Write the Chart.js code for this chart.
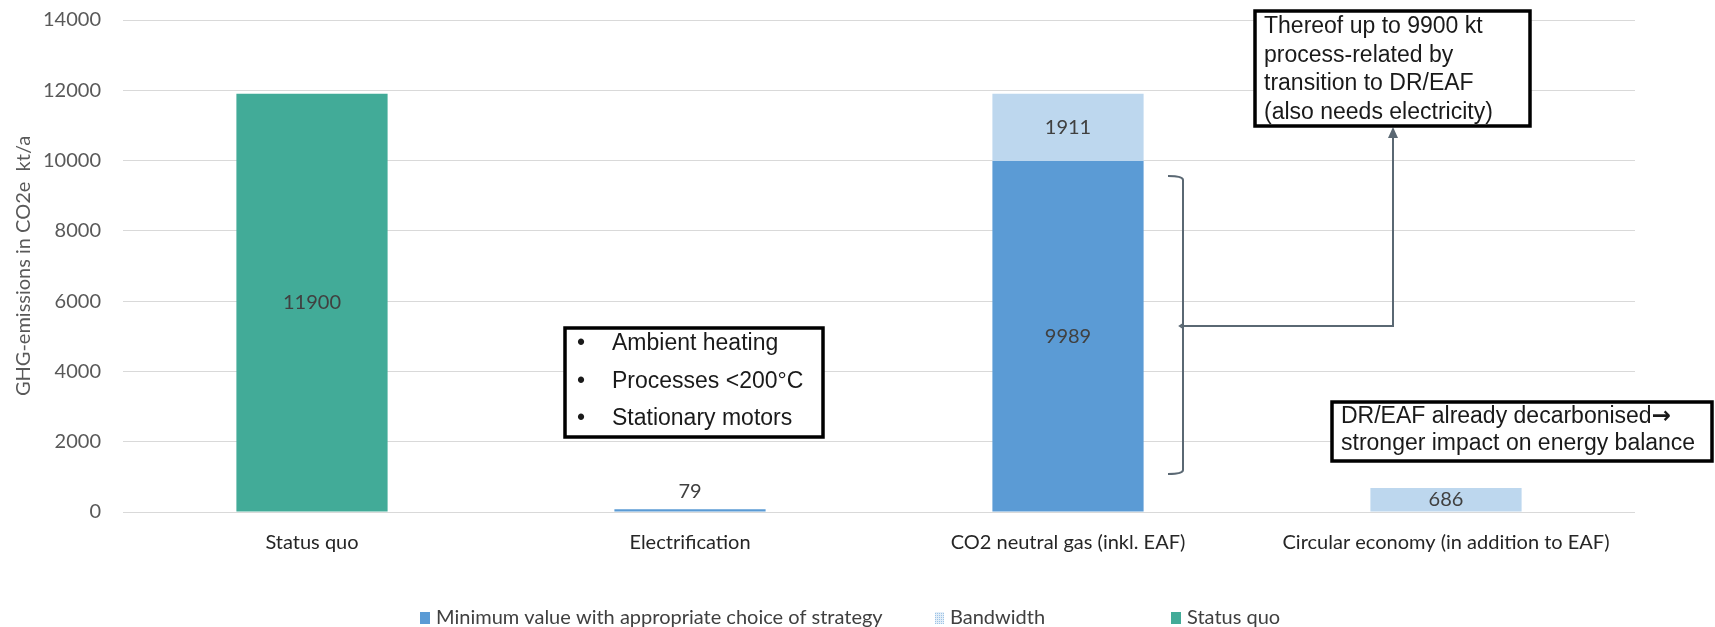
<!DOCTYPE html>
<html>
<head>
<meta charset="utf-8">
<script src="https://cdn.jsdelivr.net/npm/chart.js@4/dist/chart.umd.min.js"></script>
<style>
  html, body { margin: 0; padding: 0; background: #ffffff; }
  #wrap { width: 1715px; height: 627px; }
</style>
</head>
<body>
<div id="wrap"><canvas id="chart" width="1715" height="627"></canvas></div>
<script>
// Categories and series (kt CO2e per year)
const categories = ['Status quo', 'Electrification', 'CO2 neutral gas (inkl. EAF)', 'Circular economy (in addition to EAF)'];
const minimumValues = [null, 79, 9989, null];
const bandwidthValues = [null, null, 1911, 686];
const statusQuoValues = [11900, null, null, null];
const seriesNames = ['Minimum value with appropriate choice of strategy', 'Bandwidth', 'Status quo'];
const yTickValues = [0, 2000, 4000, 6000, 8000, 10000, 12000, 14000];
const yAxisTitle = 'GHG-emissions in CO2e  kt/a';

const COLORS = { minimum: '#5b9bd5', bandwidth: '#bdd7ee', status: '#42ab98' };
const UI_FONT = 'Lato, "Open Sans", sans-serif';
const NOTE_FONT = '"Liberation Sans", Arial, sans-serif';

// Value labels centred in each segment, or above it when the segment is very thin
const valueLabels = {
  id: 'valueLabels',
  afterDatasetsDraw(chart) {
    const ctx = chart.ctx;
    ctx.save();
    ctx.font = '20px ' + UI_FONT;
    ctx.fillStyle = '#404040';
    ctx.textAlign = 'center';
    ctx.textBaseline = 'middle';
    chart.data.datasets.forEach((ds, di) => {
      const meta = chart.getDatasetMeta(di);
      meta.data.forEach((el, i) => {
        const v = ds.data[i];
        if (v === null || v === undefined) return;
        const h = el.base - el.y;
        const y = h < 12 ? el.y - 18 : (el.y + el.base) / 2;
        ctx.fillText(String(v), el.x, y);
      });
    });
    ctx.restore();
  }
};

// Legend row under the axis
const bottomLegend = {
  id: 'bottomLegend',
  afterDraw(chart) {
    const ctx = chart.ctx;
    const y = 618;
    const items = [
      { x: 420, color: COLORS.minimum, dotted: false },
      { x: 935, color: COLORS.bandwidth, dotted: true },
      { x: 1171, color: COLORS.status, dotted: false }
    ];
    ctx.save();
    ctx.font = '20px ' + UI_FONT;
    ctx.textBaseline = 'middle';
    ctx.textAlign = 'left';
    items.forEach((it, i) => {
      if (it.dotted) {
        ctx.fillStyle = '#e3eef8';
        ctx.fillRect(it.x, y - 6, 9, 12);
        ctx.fillStyle = '#9dc3e6';
        for (let yy = y - 5; yy < y + 6; yy += 2) {
          for (let xx = it.x + ((yy % 4) ? 0 : 1); xx < it.x + 9; xx += 2) {
            ctx.fillRect(xx, yy, 1, 1);
          }
        }
      } else {
        ctx.fillStyle = it.color;
        ctx.fillRect(it.x, y - 6, 10, 12);
      }
      ctx.fillStyle = '#404040';
      ctx.fillText(seriesNames[i], it.x + (it.dotted ? 15 : 16), y);
    });
    ctx.restore();
  }
};

// Note boxes, bracket and connector arrow
function noteBox(ctx, x, y, w, h) {
  ctx.fillStyle = '#ffffff';
  ctx.fillRect(x, y, w, h);
  ctx.lineWidth = 3.5;
  ctx.strokeStyle = '#000000';
  ctx.strokeRect(x, y, w, h);
}

const notes = {
  id: 'notes',
  afterDraw(chart) {
    const ctx = chart.ctx;
    ctx.save();

    // bracket beside the CO2 neutral gas column and connector
    ctx.strokeStyle = '#5a6873';
    ctx.lineWidth = 2;
    ctx.beginPath();
    ctx.moveTo(1168, 176);
    ctx.quadraticCurveTo(1183, 176, 1183, 180);
    ctx.lineTo(1183, 470);
    ctx.quadraticCurveTo(1183, 474, 1168, 474);
    ctx.stroke();
    ctx.beginPath();
    ctx.moveTo(1183, 324);
    ctx.lineTo(1180, 326);
    ctx.lineTo(1183, 328);
    ctx.stroke();
    ctx.beginPath();
    ctx.moveTo(1183, 326);
    ctx.lineTo(1393, 326);
    ctx.lineTo(1393, 136);
    ctx.stroke();
    ctx.fillStyle = '#5a6873';
    ctx.beginPath();
    ctx.moveTo(1393, 127);
    ctx.lineTo(1388, 138);
    ctx.lineTo(1398, 138);
    ctx.closePath();
    ctx.fill();

    ctx.textAlign = 'left';
    ctx.textBaseline = 'alphabetic';

    // electrification scope
    noteBox(ctx, 565, 328, 258, 109);
    ctx.fillStyle = '#1a1a1a';
    ctx.font = '23px ' + NOTE_FONT;
    const bullets = ['Ambient heating', 'Processes <200°C', 'Stationary motors'];
    bullets.forEach((t, i) => {
      const by = 350 + i * 37.5;
      ctx.fillText('•', 577, by);
      ctx.fillText(t, 612, by);
    });

    // process emissions note
    noteBox(ctx, 1255, 11, 275, 115);
    ctx.fillStyle = '#1a1a1a';
    const lines2 = ['Thereof up to 9900 kt', 'process-related by', 'transition to DR/EAF', '(also needs electricity)'];
    lines2.forEach((t, i) => ctx.fillText(t, 1264, 33 + i * 28.7));

    // circular economy note
    noteBox(ctx, 1332, 402, 380, 59);
    ctx.fillStyle = '#1a1a1a';
    const first = 'DR/EAF already decarbonised';
    ctx.fillText(first, 1341, 423);
    const w = ctx.measureText(first).width;
    ctx.font = 'bold 23px "DejaVu Sans", sans-serif';
    ctx.fillText('\u2192', 1341 + w, 423);
    ctx.font = '23px ' + NOTE_FONT;
    ctx.fillText('stronger impact on energy balance', 1341, 450);

    ctx.restore();
  }
};

new Chart(document.getElementById('chart'), {
  type: 'bar',
  data: {
    labels: categories,
    datasets: [
      { label: seriesNames[0], data: minimumValues, backgroundColor: COLORS.minimum },
      { label: seriesNames[1], data: bandwidthValues, backgroundColor: COLORS.bandwidth },
      { label: seriesNames[2], data: statusQuoValues, backgroundColor: COLORS.status }
    ]
  },
  options: {
    responsive: false,
    animation: false,
    devicePixelRatio: 1,
    layout: { padding: { left: 0, right: 80, top: 20, bottom: 0 } },
    datasets: { bar: { categoryPercentage: 1, barPercentage: 0.4, borderWidth: 0, skipNull: true } },
    plugins: {
      legend: { display: false },
      tooltip: { enabled: false }
    },
    scales: {
      x: {
        stacked: true,
        grid: { display: false, drawTicks: false },
        border: { display: false },
        ticks: { color: '#262626', font: { family: UI_FONT, size: 20 }, padding: 19, maxRotation: 0, autoSkip: false },
        afterFit(s) { s.height = 115; }
      },
      y: {
        stacked: true,
        min: 0,
        max: 14000,
        afterBuildTicks(s) { s.ticks = yTickValues.map(v => ({ value: v })); },
        grid: { color: '#d9d9d9', lineWidth: 1, drawTicks: false },
        border: { display: false },
        ticks: { color: '#595959', font: { family: UI_FONT, size: 20 }, padding: 22, callback: v => String(v) },
        title: { display: true, text: yAxisTitle, color: '#595959', font: { family: UI_FONT, size: 20 }, padding: { top: 12, bottom: 0 } },
        afterFit(s) {
          s.width = 123;
          s.paddingTop = 0;
          s.paddingBottom = 0;
        }
      }
    }
  },
  plugins: [valueLabels, bottomLegend, notes]
});
</script>
</body>
</html>
